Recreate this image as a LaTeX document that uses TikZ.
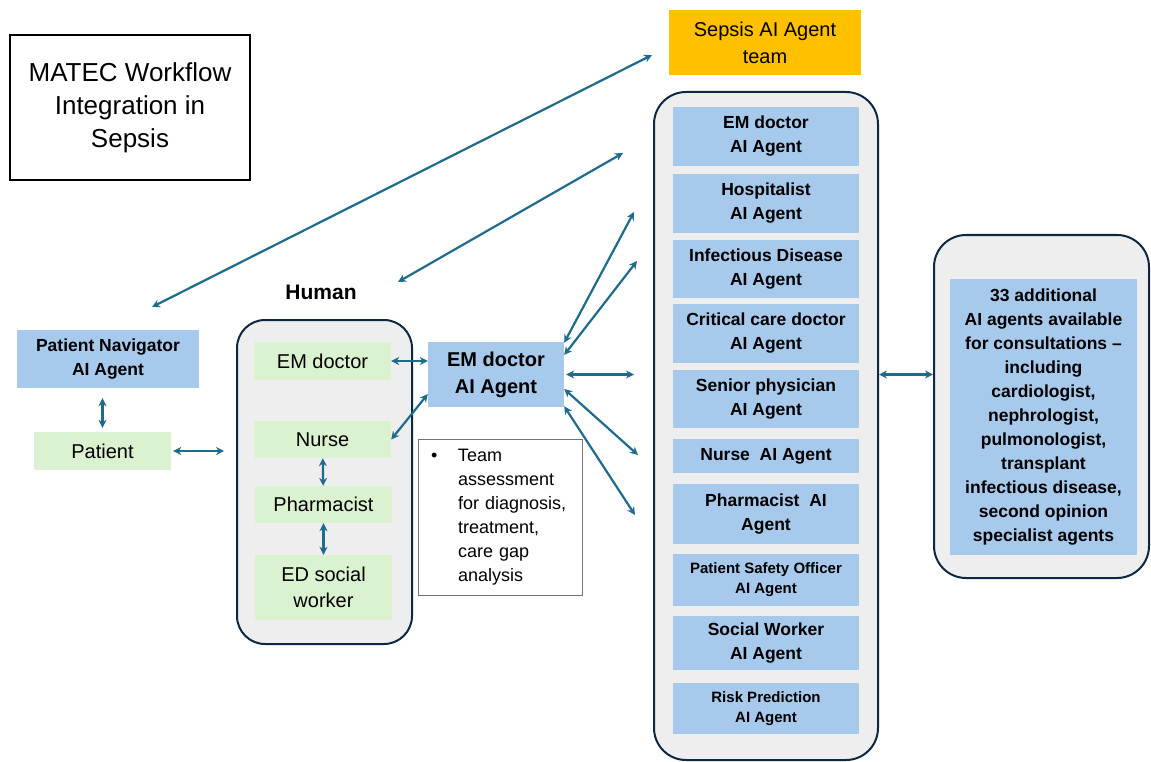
\documentclass[tikz,border=0pt]{standalone}
\usepackage{fontspec}
\setmainfont{Liberation Sans}
\usetikzlibrary{arrows.meta,positioning}
\definecolor{agentblue}{HTML}{A6C9EC}
\definecolor{humangreen}{HTML}{DAF2D0}
\definecolor{panelgray}{HTML}{EEEEEE}
\definecolor{paneledge}{HTML}{0E2841}
\definecolor{arrowteal}{HTML}{1F6B8C}
\definecolor{teamorange}{HTML}{FFC000}
\tikzstyle{arrow}=[draw=arrowteal, line width=2.2pt, <->, >={Stealth[length=8pt,width=8pt]}]
\tikzstyle{panel}=[draw=paneledge, line width=2pt, fill=panelgray, rounded corners=32pt, inner sep=0pt]
\tikzstyle{humanbox}=[fill=humangreen, minimum width=137pt, inner sep=0pt, align=center, font=\fontsize{20}{26}\selectfont]
\tikzstyle{agentbox}=[fill=agentblue, minimum width=186pt, inner sep=0pt, align=center, font=\bfseries\fontsize{17.5}{24}\selectfont]
\tikzstyle{smallagent}=[agentbox, font=\bfseries\fontsize{15}{20}\selectfont]

\begin{document}
\begin{tikzpicture}[x=1pt,y=-1pt]
\useasboundingbox (0,0) rectangle (1151,762);

\node (title) [draw, line width=1.2pt, minimum width=240pt, minimum height=145pt, align=center, font=\fontsize{26}{33}\selectfont] at (130,107.5) {MATEC Workflow\\Integration in\\Sepsis};
\node (team) [fill=teamorange, minimum width=192pt, minimum height=65pt, align=center, font=\fontsize{20}{27}\selectfont] at (765,42.5) {Sepsis AI Agent\\team};

% patient side
\node (navigator) [agentbox, minimum width=182pt, minimum height=58pt] at (108,359) {Patient Navigator\\AI Agent};
\node (patient) [humanbox, minimum height=38pt] at (102.5,451) {Patient};

% human team
\node (humanlabel) [font=\bfseries\fontsize{21}{25}\selectfont] at (321,292) {Human};
\node (human) [panel, rounded corners=28pt, minimum width=175pt, minimum height=324pt] at (324.5,482) {};
\node (emdoc) [humanbox, minimum height=38pt] at (322.5,361) {EM doctor};
\node (nurse) [humanbox, minimum height=37pt] at (322.5,439.5) {Nurse};
\node (pharmacist) [humanbox, minimum height=37pt] at (323.5,504.5) {Pharmacist};
\node (social) [humanbox, minimum height=65pt] at (323.5,587.5) {ED social\\worker};

\node (emagent) [agentbox, minimum width=136pt, minimum height=65pt, font=\bfseries\fontsize{20}{27}\selectfont] at (496,374.5) {EM doctor\\AI Agent};
\node (note) [draw=black!55, line width=0.9pt, minimum width=164pt, minimum height=156pt, text width=138pt, inner xsep=13pt, align=left, font=\fontsize{18}{24}\selectfont] at (500,517) {\makebox[27pt][l]{•}Team\\\hspace*{27pt}assessment\\\hspace*{27pt}for diagnosis,\\\hspace*{27pt}treatment,\\\hspace*{27pt}care gap\\\hspace*{27pt}analysis};

% AI agent team
\node (agents) [panel, minimum width=224pt, minimum height=668pt] at (766,426) {};
\node (emai) [agentbox, minimum height=59pt] at (766,136.5) {EM doctor\\AI Agent};
\node (hospai) [agentbox, minimum height=59pt] at (766,203.5) {Hospitalist\\AI Agent};
\node (idai) [agentbox, minimum height=58pt] at (766,269) {Infectious Disease\\AI Agent};
\node (ccai) [agentbox, minimum height=59pt] at (766,333.5) {Critical care doctor\\AI Agent};
\node (seniorai) [agentbox, minimum height=58pt] at (766,399) {Senior physician\\AI Agent};
\node (nurseai) [agentbox, minimum height=34pt] at (766,456) {Nurse~~AI Agent};
\node (pharmai) [agentbox, minimum height=60pt] at (766,514) {Pharmacist~~AI\\Agent};
\node (safetyai) [smallagent, minimum height=52pt] at (766,580) {Patient Safety Officer\\AI Agent};
\node (socialai) [agentbox, minimum height=54pt] at (766,643) {Social Worker\\AI Agent};
\node (riskai) [smallagent, minimum height=51pt] at (766,708.5) {Risk Prediction\\AI Agent};

% consultants
\node (consult) [panel, minimum width=215pt, minimum height=343pt] at (1041.5,406.5) {};
\node (more) [agentbox, minimum width=187pt, minimum height=276pt] at (1043.5,417) {33 additional\\AI agents available\\for consultations --\\including\\cardiologist,\\nephrologist,\\pulmonologist,\\transplant\\infectious disease,\\second opinion\\specialist agents};

% free ends
\coordinate (navend) at (152,307);
\coordinate (teamend) at (652,55);
\coordinate (humanend) at (398,282);
\coordinate (upend) at (623,153);
\coordinate (e1) at (634,212);
\coordinate (e2) at (637,261);
\coordinate (e3) at (634,374.5);
\coordinate (e4) at (638,455);
\coordinate (e5) at (635,515);

\draw [arrow] (navend) -- (teamend);
\draw [arrow] (humanend) -- (upend);
\draw [arrow] (emagent.25) -- (e1);
\draw [arrow] (emagent.16) -- (e2);
\draw [arrow, shorten <=2pt] (emagent.east) -- (e3);
\draw [arrow] (emagent.-12) -- (e4);
\draw [arrow] (emagent.-25) -- (e5);
\draw [arrow] (emdoc.east) -- (emdoc.east -| emagent.west);
\draw [arrow] (nurse.east) -- (emagent.196);
\draw [arrow, shorten <=2pt, shorten >=12pt] (patient.east) -- (patient.east -| human.west);
\draw [arrow, shorten <=4pt, shorten >=10pt] (patient.north) -- (patient.north |- navigator.south);
\draw [arrow] (nurse) -- (pharmacist);
\draw [arrow] (pharmacist) -- (social);
\draw [arrow] (emagent.east -| agents.east) -- (emagent.east -| consult.west);

\end{tikzpicture}
\end{document}
